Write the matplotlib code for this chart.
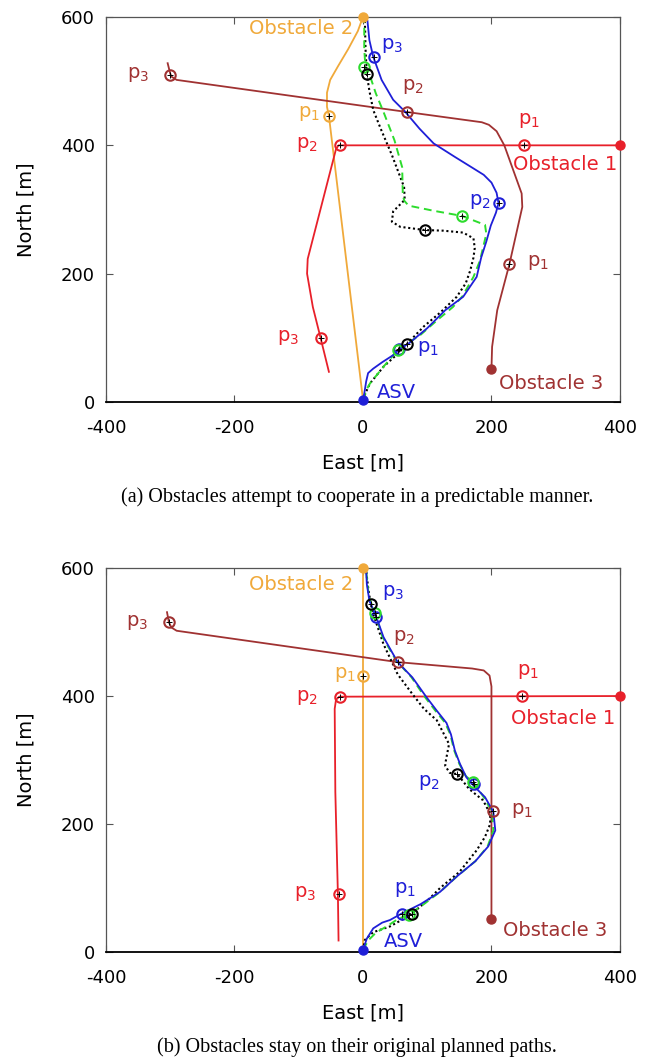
import matplotlib
matplotlib.use("Agg")
import matplotlib.pyplot as plt

plt.rcParams['axes.unicode_minus'] = False

# colores
BLUE = '#1f1fd8'
GREEN = '#2ddc2d'
RED = '#e8202a'
BROWN = '#a03232'
ORANGE = '#f0a93a'

# ---------- datos (a): obstaculos cooperan ----------
a_obs1 = [(400, 400), (-38, 400), (-42, 394), (-86, 223), (-87, 200), (-78, 148), (-66, 100), (-53, 47)]
a_obs2 = [(0, 600), (-8, 578), (-23, 550), (-39, 523), (-51, 502), (-56, 482), (-56, 460), (-53, 446), (0, 4)]
a_obs3 = [(200, 51), (201, 86), (209, 143), (228, 215), (248, 304), (247, 325), (220, 400), (208, 422),
          (196, 432), (185, 436), (68, 452), (-290, 502), (-298, 507), (-300, 512), (-304, 528)]
a_asv = [(0, 3), (2, 13), (5, 32), (8, 45), (16, 52), (30, 62), (47, 73), (56, 82), (71, 91), (100, 115),
         (128, 143), (156, 164), (177, 195), (184, 225), (192, 250), (199, 275), (207, 295), (211, 310),
         (208, 326), (200, 342), (188, 354), (172, 364), (143, 382), (110, 403), (88, 426), (66, 452),
         (47, 471), (29, 502), (16, 538), (10, 564), (7, 594)]
a_green = [(0, 3), (5, 18), (11, 29), (32, 55), (54, 81), (90, 105), (115, 127), (140, 148), (155, 165),
           (172, 195), (182, 220), (188, 245), (192, 262), (190, 276), (154, 290), (110, 298), (71, 306),
           (64, 314), (62, 325), (61, 366), (49, 408), (32, 452), (20, 481), (12, 505), (4, 520), (2, 550),
           (2, 592)]
a_black = [(0, 3), (4, 14), (11, 29), (32, 55), (55, 76), (68, 90), (95, 118), (121, 140), (146, 164),
           (160, 185), (167, 205), (172, 225), (174, 240), (172, 255), (156, 264), (125, 267), (96, 268),
           (58, 273), (45, 281), (47, 297), (65, 315), (64, 335), (45, 385), (28, 425), (16, 455), (10, 485),
           (6, 511), (4, 550), (3, 594)]
a_obs1_pts = [(250, 400), (-36, 400), (-66, 100)]
a_obs2_pts = [(-53, 446)]
a_obs3_pts = [(228, 215), (68, 452), (-300, 509)]
a_asv_pts = [(56, 82), (211, 310), (17, 538)]
a_green_pts = [(54, 81), (154, 290), (2, 522)]
a_black_pts = [(68, 90), (96, 268), (6, 511)]

# ---------- datos (b): obstaculos siguen su plan ----------
b_obs1 = [(400, 400), (-37, 399), (-42, 394), (-44, 380), (-43, 250), (-39, 90), (-38, 18)]
b_obs2 = [(0, 600), (0, 0)]
b_obs3 = [(200, 51), (200, 415), (197, 432), (188, 440), (170, 443), (54, 453), (-290, 502), (-298, 507),
          (-302, 515), (-305, 531)]
b_asv = [(0, 3), (6, 21), (16, 37), (30, 46), (42, 50), (60, 60), (90, 75), (120, 94), (146, 118),
         (175, 142), (195, 165), (206, 190), (203, 219), (190, 242), (174, 258), (161, 273), (151, 294),
         (143, 315), (137, 340), (130, 358), (115, 377), (99, 398), (77, 429), (54, 453), (32, 492),
         (21, 523), (10, 549), (6, 575), (5, 596)]
b_green = [(0, 3), (8, 18), (20, 30), (40, 42), (55, 52), (71, 58), (95, 75), (120, 94), (146, 118),
           (175, 142), (194, 165), (203, 190), (201, 219), (188, 242), (171, 266), (160, 275), (150, 294),
           (142, 315), (136, 340), (128, 358), (112, 378), (96, 399), (75, 430), (52, 455), (30, 493),
           (19, 530), (9, 555), (5, 596)]
b_black = [(0, 3), (3, 19), (16, 31), (42, 40), (60, 50), (76, 60), (100, 80), (120, 100), (150, 125),
           (177, 159), (190, 180), (198, 200), (198, 216), (187, 237), (165, 255), (147, 278), (135, 280),
           (128, 291), (129, 299), (134, 325), (115, 362), (95, 380), (77, 403), (54, 434), (32, 481),
           (16, 528), (12, 544), (8, 570), (5, 596)]
b_obs1_pts = [(248, 400), (-36, 398), (-38, 90)]
b_obs2_pts = [(0, 431)]
b_obs3_pts = [(202, 220), (54, 453), (-302, 515)]
b_asv_pts = [(60, 60), (173, 263), (21, 523)]
b_green_pts = [(71, 58), (171, 266), (19, 530)]
b_black_pts = [(76, 60), (147, 278), (12, 544)]

x_ticks = [-400, -200, 0, 200, 400]
y_ticks = [0, 200, 400, 600]
captions = ['(a) Obstacles attempt to cooperate in a predictable manner.',
            '(b) Obstacles stay on their original planned paths.']


def xy(pts):
    return [p[0] for p in pts], [p[1] for p in pts]


def path(ax, pts, color, ls='-', lw=1.3):
    x, y = xy(pts)
    ax.plot(x, y, color=color, ls=ls, lw=lw, zorder=2)


def marks(ax, pts, color):
    x, y = xy(pts)
    ax.plot(x, y, 'o', ms=7.5, mfc='none', mec=color, mew=1.5, zorder=4)
    ax.plot(x, y, '+', ms=4, color='black', mew=0.7, zorder=5)


def dot(ax, pts, color):
    ax.plot(pts[0][0], pts[0][1], 'o', ms=6.5, color=color, clip_on=False, zorder=6)


def lab(ax, txt, x, y, color, ha='left'):
    ax.text(x, y, txt, color=color, ha=ha, va='center', fontsize=14)


def setup(ax):
    ax.set_xlim(-400, 400)
    ax.set_ylim(0, 600)
    ax.set_xticks(x_ticks)
    ax.set_yticks(y_ticks)
    ax.tick_params(direction='in', top=True, right=True, length=5, labelsize=13,
                   color='#555555')
    ax.tick_params(axis='x', pad=12)
    ax.tick_params(axis='y', pad=8)
    for s in ax.spines.values():
        s.set_color('#555555')
        s.set_linewidth(0.9)
    ax.spines['bottom'].set_color('black')
    ax.spines['bottom'].set_linewidth(1.3)
    ax.set_xlabel('East [m]', fontsize=14, labelpad=12)
    ax.set_ylabel('North [m]', fontsize=14, labelpad=18)


fig = plt.figure(figsize=(6.57, 10.57), dpi=100)
ax_a = fig.add_axes([0.1613, 0.6197, 0.7823, 0.3642])
ax_b = fig.add_axes([0.1613, 0.0993, 0.7823, 0.3633])

panels = [
    (ax_a, a_obs1, a_obs2, a_obs3, a_asv, a_green, a_black,
     a_obs1_pts, a_obs2_pts, a_obs3_pts, a_asv_pts, a_green_pts, a_black_pts),
    (ax_b, b_obs1, b_obs2, b_obs3, b_asv, b_green, b_black,
     b_obs1_pts, b_obs2_pts, b_obs3_pts, b_asv_pts, b_green_pts, b_black_pts),
]

for (ax, o1, o2, o3, asv, gr, bk, o1p, o2p, o3p, asvp, grp, bkp) in panels:
    setup(ax)
    path(ax, o2, ORANGE)
    path(ax, o1, RED)
    path(ax, o3, BROWN)
    path(ax, bk, 'black', ls=(0, (1, 1.3)), lw=1.5)
    path(ax, gr, GREEN, ls=(0, (4, 2.5)), lw=1.4)
    path(ax, asv, BLUE)
    marks(ax, o1p, RED)
    marks(ax, o2p, ORANGE)
    marks(ax, o3p, BROWN)
    marks(ax, asvp, BLUE)
    marks(ax, grp, GREEN)
    marks(ax, bkp, 'black')
    dot(ax, o1, RED)
    dot(ax, o2, ORANGE)
    dot(ax, o3, BROWN)
    dot(ax, asv, BLUE)

# etiquetas (a)
lab(ax_a, 'Obstacle 2', -15, 582, ORANGE, 'right')
lab(ax_a, 'p$_3$', 28, 556, BLUE)
lab(ax_a, 'p$_3$', -333, 511, BROWN, 'right')
lab(ax_a, 'p$_2$', 60, 491, BROWN)
lab(ax_a, 'p$_1$', -67, 449, ORANGE, 'right')
lab(ax_a, 'p$_2$', -70, 401, RED, 'right')
lab(ax_a, 'p$_1$', 242, 439, RED)
lab(ax_a, 'Obstacle 1', 314, 370, RED, 'center')
lab(ax_a, 'p$_2$', 199, 312, BLUE, 'right')
lab(ax_a, 'p$_1$', 256, 218, BROWN)
lab(ax_a, 'p$_3$', -100, 101, RED, 'right')
lab(ax_a, 'p$_1$', 84, 84, BLUE)
lab(ax_a, 'Obstacle 3', 293, 29, BROWN, 'center')
lab(ax_a, 'ASV', 21, 15, BLUE)

# etiquetas (b)
lab(ax_b, 'Obstacle 2', -15, 575, ORANGE, 'right')
lab(ax_b, 'p$_3$', 30, 562, BLUE)
lab(ax_b, 'p$_3$', -335, 515, BROWN, 'right')
lab(ax_b, 'p$_2$', 46, 492, BROWN)
lab(ax_b, 'p$_1$', -11, 433, ORANGE, 'right')
lab(ax_b, 'p$_2$', -70, 398, RED, 'right')
lab(ax_b, 'p$_1$', 240, 439, RED)
lab(ax_b, 'Obstacle 1', 311, 365, RED, 'center')
lab(ax_b, 'p$_2$', 85, 265, BLUE)
lab(ax_b, 'p$_1$', 231, 221, BROWN)
lab(ax_b, 'p$_3$', -73, 91, RED, 'right')
lab(ax_b, 'p$_1$', 48, 98, BLUE)
lab(ax_b, 'Obstacle 3', 299, 34, BROWN, 'center')
lab(ax_b, 'ASV', 33, 16, BLUE)

fig.text(0.543, 0.5298, captions[0], ha='center', va='center', fontsize=14.5, family='Liberation Serif')
fig.text(0.543, 0.0098, captions[1], ha='center', va='center', fontsize=14.5, family='Liberation Serif')

fig.savefig('out.png', dpi=100)
